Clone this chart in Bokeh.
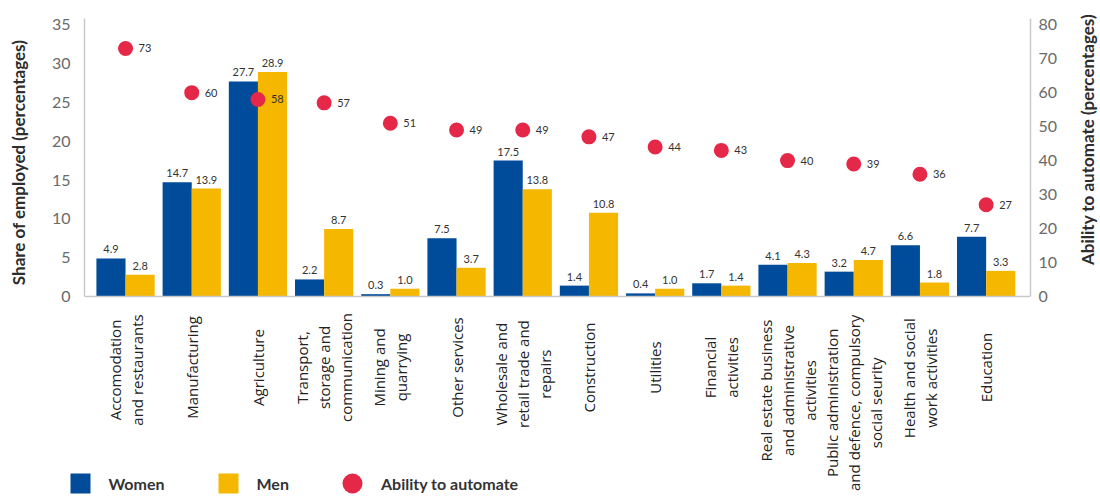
import math
from bokeh.plotting import figure
from bokeh.layouts import column, row
from bokeh.models import (Range1d, LinearAxis, FixedTicker, Span,
                          Legend, LegendItem, ColumnDataSource)
from bokeh.transform import dodge
from bokeh.core.properties import value
from bokeh.embed import file_html
from bokeh.resources import INLINE

# ---------------- data ----------------
categories = [
    "Accomodation\nand restaurants",
    "Manufacturing",
    "Agriculture",
    "Transport,\nstorage and\ncommunication",
    "Mining and\nquarrying",
    "Other services",
    "Wholesale and\nretail trade and\nrepairs",
    "Construction",
    "Utilities",
    "Financial\nactivities",
    "Real estate business\nand administrative\nactivities",
    "Public administration\nand defence, compulsory\nsocial seurity",
    "Health and social\nwork activities",
    "Education",
]
women = [4.9, 14.7, 27.7, 2.2, 0.3, 7.5, 17.5, 1.4, 0.4, 1.7, 4.1, 3.2, 6.6, 7.7]
men = [2.8, 13.9, 28.9, 8.7, 1.0, 3.7, 13.8, 10.8, 1.0, 1.4, 4.3, 4.7, 1.8, 3.3]
automate = [73, 60, 58, 57, 51, 49, 49, 47, 44, 43, 40, 39, 36, 27]
left_ticks = [0, 5, 10, 15, 20, 25, 30, 35]
right_ticks = [0, 10, 20, 30, 40, 50, 60, 70, 80]
left_title = "Share of employed (percentages)"
right_title = "Ability to automate (percentages)"

# ---------------- styling / geometry ----------------
BLUE = "#014b9b"
YELLOW = "#f5b700"
RED = "#e52848"
AXIS_GRAY = "#c9c9c9"
FONT = "Lato"
CAT_FONT = "Open Sans"

W, H = 1100, 499
RIGHT_TITLE_W = 24
P_W = W - RIGHT_TITLE_W
B_LEFT, B_TOP = 84, 18
FRAME_RIGHT = 1030
B_RIGHT = P_W - FRAME_RIGHT
ZERO_PX = 296            # pixel row of the zero line
TOP_H = 306              # height of the chart part
BOT_H = H - TOP_H        # height of the label / legend part
frame_w = FRAME_RIGHT - B_LEFT

n = len(categories)
x0, x1 = -0.62, n - 1 + 0.67
y_max = 35.8
y2_max = y_max * 80 / 35
ppu_x = frame_w / (x1 - x0)
ppu_y = (ZERO_PX - B_TOP) / y_max
ppu_y2 = (ZERO_PX - B_TOP) / y2_max
y_min = -(TOP_H - ZERO_PX) / ppu_y
y2_min = -(TOP_H - ZERO_PX) / ppu_y2

idx = list(range(n))
src = ColumnDataSource(dict(
    x=idx, women=women, men=men, automate=automate,
    women_lab=[f"{v:.1f}" for v in women],
    men_lab=[f"{v:.1f}" for v in men],
    auto_lab=[str(v) for v in automate],
    women_y=[v + 5 / ppu_y for v in women],
    men_y=[v + 5 / ppu_y for v in men],
    auto_x=[i + 13 / ppu_x for i in idx],
))


def clean(fig):
    fig.outline_line_color = None
    fig.xgrid.visible = False
    fig.ygrid.visible = False
    fig.background_fill_color = "white"
    fig.border_fill_color = "white"
    fig.frame_align = False


# ================= chart =================
p = figure(width=P_W, height=TOP_H, output_backend="svg", toolbar_location=None,
           x_range=Range1d(x0, x1), y_range=Range1d(y_min, y_max),
           x_axis_location=None,
           min_border_left=B_LEFT, min_border_right=B_RIGHT,
           min_border_top=B_TOP, min_border_bottom=0)
clean(p)
p.extra_y_ranges = {"auto": Range1d(y2_min, y2_max)}

ya = p.yaxis[0]
ya.ticker = FixedTicker(ticks=left_ticks)
ya.bounds = (0, y_max)
ya.axis_line_color = AXIS_GRAY
ya.axis_line_width = 1.5
ya.major_tick_line_color = None
ya.minor_tick_line_color = None
ya.major_tick_out = 0
ya.major_label_standoff = 14
ya.major_label_text_font = FONT
ya.major_label_text_font_size = "16px"
ya.major_label_text_color = "#6a6a6a"
ya.axis_label = left_title
ya.axis_label_standoff = 20
ya.axis_label_text_font = FONT
ya.axis_label_text_font_size = "17px"
ya.axis_label_text_font_style = "bold"
ya.axis_label_text_color = "#2d2d2d"

ra = LinearAxis(y_range_name="auto", ticker=FixedTicker(ticks=right_ticks))
ra.bounds = (0, y2_max)
ra.axis_line_color = AXIS_GRAY
ra.axis_line_width = 1.5
ra.major_tick_line_color = None
ra.minor_tick_line_color = None
ra.major_tick_out = 0
ra.major_label_standoff = 8
ra.major_label_text_font = FONT
ra.major_label_text_font_size = "16px"
ra.major_label_text_color = "#6a6a6a"
p.add_layout(ra, "right")

p.add_layout(Span(location=0, dimension="width", line_color=AXIS_GRAY, line_width=1.5))

bw = 0.44
p.vbar(x=dodge("x", -bw / 2), top="women", width=bw, source=src,
       fill_color=BLUE, line_color=None)
p.vbar(x=dodge("x", bw / 2), top="men", width=bw, source=src,
       fill_color=YELLOW, line_color=None)

for col, ycol, off in (("women_lab", "women_y", -bw / 2), ("men_lab", "men_y", bw / 2)):
    p.text(x=dodge("x", off), y=ycol, text=col, source=src,
           text_align="center", text_baseline="bottom",
           text_font=value(FONT), text_font_size="11px", text_color="#333333")

p.scatter(x="x", y="automate", y_range_name="auto", source=src, marker="circle",
          size=15, fill_color=RED, line_color=None)
p.text(x="auto_x", y="automate", y_range_name="auto", text="auto_lab", source=src,
       text_align="left", text_baseline="middle",
       text_font=value(FONT), text_font_size="11px", text_color="#333333")

# ================= right axis title (reads bottom-to-top) =================
r = figure(width=RIGHT_TITLE_W, height=TOP_H, output_backend="svg", toolbar_location=None,
           x_range=Range1d(0, RIGHT_TITLE_W), y_range=Range1d(0, TOP_H),
           x_axis_location=None, y_axis_location=None,
           min_border_left=0, min_border_right=0, min_border_top=0, min_border_bottom=0)
clean(r)
r.text(x=[RIGHT_TITLE_W / 2 - 1], y=[TOP_H - 139], text=[right_title], angle=math.pi / 2,
       text_align="center", text_baseline="middle",
       text_font=value(FONT), text_font_size="17px", text_font_style="bold",
       text_color="#2d2d2d")

# ================= category labels + legend =================
bx0 = x0 - B_LEFT / ppu_x
bx1 = bx0 + W / ppu_x
gap = TOP_H - ZERO_PX
cat_y = []
for cat in categories:
    longest = max(len(s) for s in cat.split("\n"))
    below_px = max(71, 12 + 8.2 * longest / 2)
    cat_y.append(-(below_px - gap))
cat_src = ColumnDataSource(dict(x=idx, y=cat_y, text=categories))

q = figure(width=W, height=BOT_H, output_backend="svg", toolbar_location=None,
           x_range=Range1d(bx0, bx1), y_range=Range1d(-BOT_H, 0),
           x_axis_location=None, y_axis_location=None,
           min_border_left=0, min_border_right=0, min_border_top=0, min_border_bottom=0)
clean(q)

q.text(x="x", y="y", text="text", source=cat_src, angle=math.pi / 2,
       text_align="center", text_baseline="middle",
       text_font=value(CAT_FONT), text_font_size="15px", text_color="#222222",
       text_line_height=1.1)

nan = float("nan")
r_w = q.scatter(x=[nan], y=[nan], marker="square", size=20, fill_color=BLUE, line_color=None)
r_m = q.scatter(x=[nan], y=[nan], marker="square", size=20, fill_color=YELLOW, line_color=None)
r_a = q.scatter(x=[nan], y=[nan], marker="circle", size=20, fill_color=RED, line_color=None)
legend = Legend(items=[LegendItem(label="Women", renderers=[r_w]),
                       LegendItem(label="Men", renderers=[r_m]),
                       LegendItem(label="Ability to automate", renderers=[r_a])],
                orientation="horizontal", location=(54.5, -9),
                glyph_width=50, glyph_height=50, label_standoff=4, spacing=38,
                padding=0, margin=0, border_line_color=None,
                background_fill_alpha=0,
                label_text_font=FONT, label_text_font_size="16px",
                label_text_font_style="bold", label_text_color="#333333")
q.add_layout(legend, "center")

layout = column(row(p, r, spacing=0), q, spacing=0)
open("out.html", "w").write(file_html(layout, INLINE))
